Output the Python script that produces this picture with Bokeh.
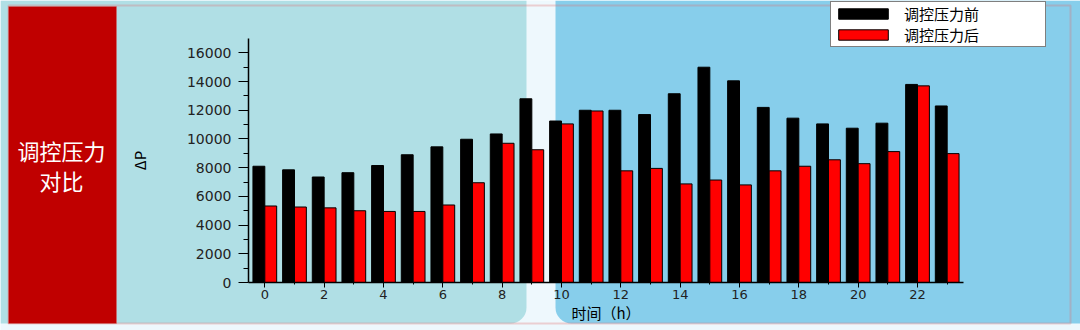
from bokeh.plotting import figure
from bokeh.models import (BoxAnnotation, Label, Legend, LegendItem, FixedTicker,
                          ColumnDataSource, Range1d)
from bokeh.transform import dodge
from bokeh.embed import file_html
from bokeh.resources import INLINE

# ---- data ----
hours = list(range(24))
before = [8100, 7850, 7350, 7650, 8150, 8900, 9450, 9980, 10350, 12800, 11250, 12000,
          12000, 11700, 13150, 15000, 14050, 12200, 11450, 11050, 10750, 11100, 13800, 12300]
after = [5330, 5260, 5200, 5000, 4950, 4950, 5400, 6950, 9700, 9250, 11050, 11950,
         7780, 7950, 6870, 7140, 6800, 7780, 8100, 8550, 8280, 9120, 13700, 8980]
series_names = ["调控压力前", "调控压力后"]
x_major = list(range(0, 24, 2))
x_minor = list(range(1, 24, 2))
y_major = list(range(0, 16001, 2000))
y_minor = list(range(1000, 16000, 2000))
panel_title = ["调控压力", "对比"]
x_label = "时间（h）"
y_label = "ΔP"

CJK = "Noto Sans CJK SC"
W, H = 1080, 330

# plot area (pixels) of the chart inside the full canvas
PX0, PX1, PY_TOP, PY_BOT = 248, 963, 38, 282
XLO, XHI, YLO, YHI = -0.55, 23.55, 0, 17000
sx = (PX1 - PX0) / (XHI - XLO)
sy = (PY_BOT - PY_TOP) / (YHI - YLO)

p = figure(width=W, height=H,
           x_range=Range1d(XLO - PX0 / sx, XHI + (W - PX1) / sx),
           y_range=Range1d(YLO - (H - PY_BOT) / sy, YHI + PY_TOP / sy),
           output_backend="svg", toolbar_location=None,
           min_border=0, min_border_left=0, min_border_right=0,
           min_border_top=0, min_border_bottom=0)
p.border_fill_color = "#eef8fd"
p.background_fill_color = "#eef8fd"
p.outline_line_color = None
p.xgrid.visible = False
p.ygrid.visible = False

# ---- page decoration (canvas pixel units) ----
def cbox(l, r, t, b, **kw):
    return BoxAnnotation(left=l, right=r, top=t, bottom=b,
                         left_units="canvas", right_units="canvas",
                         top_units="canvas", bottom_units="canvas", level="image", **kw)

p.add_layout(cbox(0, 526, 0, 323, fill_color="#b0dfe5", fill_alpha=1, line_color=None,
                  border_radius=(0, 0, 16, 0)))
p.add_layout(cbox(555, 1080, 0, 323, fill_color="#87ceeb", fill_alpha=1, line_color=None,
                  border_radius=(0, 0, 0, 16)))
p.add_layout(cbox(8, 1070, 5, 323, fill_alpha=0, line_color="#e06c6c", line_width=2))
p.add_layout(cbox(8, 116, 6, 323, fill_color="#c00000", fill_alpha=1,
                  line_color="#e06c6c", line_width=1))

for txt, yy in zip(panel_title, [149, 179]):
    p.add_layout(Label(x=61, y=yy, x_units="canvas", y_units="canvas", text=txt,
                       text_align="center", text_baseline="middle", text_color="white",
                       text_font=CJK, text_font_size="22px"))

# ---- bars ----
src = ColumnDataSource(dict(hour=hours, before=before, after=after))
r1 = p.vbar(x=dodge("hour", -0.2, range=p.x_range), top="before", width=0.4, source=src,
            fill_color="black", line_color="black", line_width=1)
r2 = p.vbar(x=dodge("hour", 0.2, range=p.x_range), top="after", width=0.4, source=src,
            fill_color="#ff0000", line_color="black", line_width=1)

# ---- axes (drawn inside the full-canvas frame) ----
for ax in (p.xaxis[0], p.yaxis[0]):
    ax.axis_line_color = "black"
    ax.axis_line_width = 1.5
    ax.major_tick_line_color = "black"
    ax.minor_tick_line_color = "black"
    ax.major_tick_in = 0
    ax.minor_tick_in = 0
    ax.major_label_text_font = "DejaVu Sans"
    ax.major_label_text_color = "#222222"
    ax.axis_label_text_font = CJK
    ax.axis_label_text_font_style = "normal"
    ax.axis_label_text_color = "black"

p.xaxis.fixed_location = YLO
p.xaxis.bounds = (XLO, XHI)
p.xaxis.ticker = FixedTicker(ticks=x_major, minor_ticks=x_minor)
p.xaxis.major_tick_out = 5
p.xaxis.minor_tick_out = 2
p.xaxis.major_label_standoff = 2
p.xaxis.major_label_text_font_size = "13px"
p.xaxis.axis_label = x_label
p.xaxis.axis_label_text_font_size = "15px"
p.xaxis.axis_label_standoff = 0

p.yaxis.fixed_location = XLO
p.yaxis.bounds = (YLO, YHI)
p.yaxis.ticker = FixedTicker(ticks=y_major, minor_ticks=y_minor)
p.yaxis.major_tick_out = 10
p.yaxis.minor_tick_out = 5
p.yaxis.major_label_standoff = 7
p.yaxis.major_label_text_font_size = "14px"
p.yaxis.axis_label = y_label
p.yaxis.axis_label_text_font_size = "15px"
p.yaxis.axis_label_standoff = 34

# ---- legend ----
legend = Legend(items=[LegendItem(label=series_names[0], renderers=[r1]),
                       LegendItem(label=series_names[1], renderers=[r2])],
                location=(830, H - 47), orientation="vertical",
                glyph_width=62, glyph_height=13, label_width=140, label_height=13,
                label_standoff=10, padding=1, spacing=0, margin=0,
                label_text_font=CJK, label_text_font_size="15px",
                label_text_color="black",
                border_line_color="black", border_line_width=1,
                background_fill_color="white", background_fill_alpha=1)
p.add_layout(legend)

open("out.html", "w").write(file_html(p, INLINE))
